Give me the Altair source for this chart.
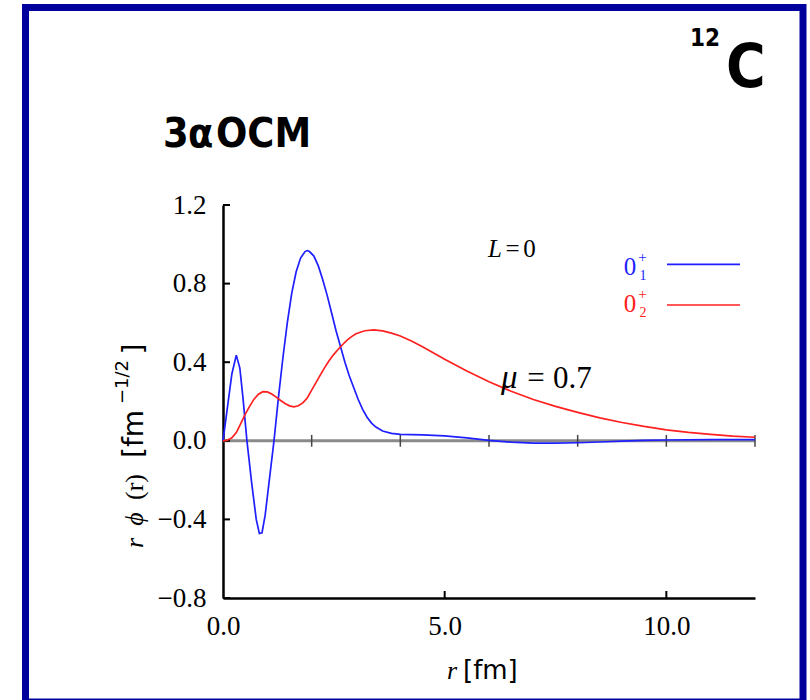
import altair as alt
import pandas as pd

# ---------------- data ----------------
blue_r = [0.0, 0.1, 0.2, 0.3, 0.38, 0.45, 0.54, 0.65, 0.75, 0.82, 0.88, 0.95, 1.05, 1.15,
          1.25, 1.35, 1.45, 1.55, 1.65, 1.75, 1.85, 1.9, 1.95, 2.05, 2.15, 2.25, 2.35, 2.45,
          2.55, 2.65, 2.75, 2.85, 2.95, 3.05, 3.15, 3.25, 3.35, 3.45, 3.6, 3.8, 4.0, 4.5,
          5.0, 5.5, 6.0, 6.5, 7.0, 7.5, 8.0, 8.5, 9.0, 9.5, 10.0, 11.0, 12.0]
blue_phi = [0.0, 0.17, 0.34, 0.436, 0.37, 0.22, 0.0, -0.22, -0.40, -0.472, -0.468, -0.38, -0.19, 0.0,
            0.22, 0.42, 0.60, 0.75, 0.86, 0.93, 0.963, 0.968, 0.963, 0.94, 0.89, 0.82, 0.74, 0.65,
            0.56, 0.48, 0.40, 0.33, 0.27, 0.21, 0.16, 0.12, 0.09, 0.07, 0.05, 0.038, 0.033, 0.03,
            0.025, 0.015, 0.002, -0.007, -0.012, -0.012, -0.01, -0.006, -0.002, 0.002, 0.004, 0.006, 0.006]

red_r = [0.0, 0.1, 0.2, 0.3, 0.4, 0.5, 0.6, 0.7, 0.8, 0.9, 1.0, 1.1, 1.2, 1.3, 1.4, 1.5, 1.6,
         1.7, 1.8, 1.9, 2.0, 2.1, 2.2, 2.3, 2.4, 2.5, 2.6, 2.7, 2.8, 2.9, 3.0, 3.2, 3.4, 3.6,
         3.8, 4.0, 4.25, 4.5, 4.75, 5.0, 5.5, 6.0, 6.5, 7.0, 7.5, 8.0, 8.5, 9.0, 9.5, 10.0,
         10.5, 11.0, 11.5, 12.0]
red_phi = [0.0, 0.003, 0.015, 0.042, 0.088, 0.135, 0.175, 0.212, 0.237, 0.25, 0.249, 0.238, 0.222,
           0.205, 0.19, 0.178, 0.173, 0.178, 0.193, 0.218, 0.258, 0.297, 0.337, 0.375, 0.41, 0.44,
           0.466, 0.49, 0.512, 0.53, 0.545, 0.56, 0.564, 0.559, 0.548, 0.533, 0.508, 0.478, 0.447,
           0.415, 0.355, 0.30, 0.252, 0.21, 0.175, 0.145, 0.117, 0.093, 0.073, 0.056, 0.043,
           0.033, 0.024, 0.018]

y_ticks = [-0.8, -0.4, 0.0, 0.4, 0.8, 1.2]
x_label_ticks = [0.0, 5.0, 10.0]
x_bottom_ticks = [5.0, 10.0]
zero_line_ticks = [2.0, 4.0, 6.0, 8.0, 10.0, 12.0]

BLUE = "#1f1fff"
RED = "#ff2020"
FRAME = "#00009c"
SERIF = "Liberation Serif"
SANS = "DejaVu Sans"
TITLE_FONT = "DejaVu Sans Condensed"

W, H = 532, 393

curves = pd.concat([
    pd.DataFrame({"r": blue_r, "phi": blue_phi, "state": "0_1+"}),
    pd.DataFrame({"r": red_r, "phi": red_phi, "state": "0_2+"}),
])

xscale = alt.Scale(domain=[0, 12], nice=False, zero=False)
yscale = alt.Scale(domain=[-0.8, 1.2], nice=False, zero=False)

xaxis = alt.Axis(values=x_label_ticks, format=".1f", title=None, grid=False, ticks=False,
                 tickSize=0, domainColor="black", domainWidth=2.5, labelFont=SERIF,
                 labelFontSize=27, labelPadding=15, labelColor="black", labelFlush=False)
yaxis = alt.Axis(values=y_ticks, format=".1f", title=None, grid=False, ticks=False,
                 tickSize=0, domainColor="black", domainWidth=2.5, labelFont=SERIF,
                 labelFontSize=27, labelPadding=17, labelColor="black", labelFlush=False)

one = pd.DataFrame({"a": [0]})

# zero line
zero = alt.Chart(one).mark_rule(color="#8a8a8a", strokeWidth=3).encode(
    x=alt.datum(0, scale=xscale, axis=xaxis),
    x2=alt.datum(12),
    y=alt.datum(0, scale=yscale, axis=yaxis),
)
zticks = alt.Chart(pd.DataFrame({"t": zero_line_ticks})).mark_rule(color="#444444", strokeWidth=1.5).encode(
    x=alt.X("t:Q", scale=xscale, axis=xaxis),
    y=alt.datum(-0.03),
    y2=alt.datum(0.03),
)
yticks = alt.Chart(pd.DataFrame({"t": y_ticks})).mark_rule(color="black", strokeWidth=2).encode(
    y=alt.Y("t:Q", scale=yscale, axis=yaxis),
    x=alt.value(0),
    x2=alt.value(7),
)
xticks = alt.Chart(pd.DataFrame({"t": x_bottom_ticks})).mark_rule(color="black", strokeWidth=2).encode(
    x=alt.X("t:Q", scale=xscale, axis=xaxis),
    y=alt.value(H),
    y2=alt.value(H - 7),
)

lines = alt.Chart(curves).mark_line(strokeWidth=1.7).encode(
    x=alt.X("r:Q", scale=xscale, axis=xaxis),
    y=alt.Y("phi:Q", scale=yscale, axis=yaxis),
    color=alt.Color("state:N", scale=alt.Scale(domain=["0_1+", "0_2+"], range=[BLUE, RED]), legend=None),
)


def txt(text, x, y, size, font=SERIF, style="normal", weight="normal", color="black",
        align="left", baseline="alphabetic", angle=0):
    return alt.Chart(one).mark_text(
        text=text, font=font, fontSize=size, fontStyle=style, fontWeight=weight,
        color=color, align=align, baseline=baseline, angle=angle,
    ).encode(x=alt.value(x), y=alt.value(y))


def seg(x1, x2, y, color):
    return alt.Chart(one).mark_rule(color=color, strokeWidth=1.7).encode(
        x=alt.value(x1), x2=alt.value(x2), y=alt.value(y))


frame = alt.Chart(one).mark_rect(fillOpacity=0, stroke=FRAME, strokeWidth=7).encode(
    x=alt.value(-197.5), x2=alt.value(580), y=alt.value(-197.5), y2=alt.value(497))

annotations = [
    frame,
    # headline texts
    txt("3", -60, -58, 41, font=TITLE_FONT, weight="bold"),
    txt("α", -35, -58, 41, font=TITLE_FONT, weight="bold"),
    txt("OCM", -7, -58, 41, font=TITLE_FONT, weight="bold"),
    txt("12", 467, -159, 24, font=TITLE_FONT, weight="bold"),
    txt("C", 503, -118, 60, font=TITLE_FONT, weight="bold"),
    # L=0
    txt("L", 265, 52, 25, style="italic"),
    txt("=", 289.5, 52, 25, align="center"),
    txt("0", 306.5, 52, 25, align="center"),
    # legend
    txt("0", 407, 70, 25, color=BLUE, align="center"),
    txt("1", 420, 75, 14, color=BLUE, align="center"),
    txt("+", 419.5, 52, 15, color=BLUE, align="center", baseline="middle"),
    seg(444, 517, 59.3, BLUE),
    txt("0", 407, 107, 25, color=RED, align="center"),
    txt("2", 420, 112, 14, color=RED, align="center"),
    txt("+", 419.5, 89, 15, color=RED, align="center", baseline="middle"),
    seg(444, 517, 100, RED),
    # mu = 0.7
    txt("μ", 278, 183, 33, style="italic"),
    txt("=", 313, 183, 31, align="center"),
    txt("0.7", 330, 183, 31),
    # x title
    txt("r", 229, 474, 26, style="italic", align="center"),
    txt("[fm]", 240, 474, 26, font=SANS),
    # y title (rotated pieces, reading bottom to top)
    txt("r", -88, 338, 26, style="italic", align="center", baseline="middle", angle=270),
    txt("ϕ", -88, 314, 26, style="italic", align="center", baseline="middle", angle=270),
    txt("(r)", -88, 282, 26, align="center", baseline="middle", angle=270),
    txt("[fm", -88, 229, 28, font=SANS, align="center", baseline="middle", angle=270),
    txt("−1/2", -100, 177, 18, font=SANS, align="center", baseline="middle", angle=270),
    txt("]", -88, 144, 28, font=SANS, align="center", baseline="middle", angle=270),
]

chart = alt.layer(zero, zticks, yticks, xticks, lines, *annotations).properties(
    width=W, height=H,
    autosize=alt.AutoSizeParams(type="none"),
    padding={"left": 223, "top": 205, "right": 55, "bottom": 102},
    background="white",
).configure_view(strokeWidth=0)

chart.save("out.html", embed_options={"renderer": "svg", "actions": False})
